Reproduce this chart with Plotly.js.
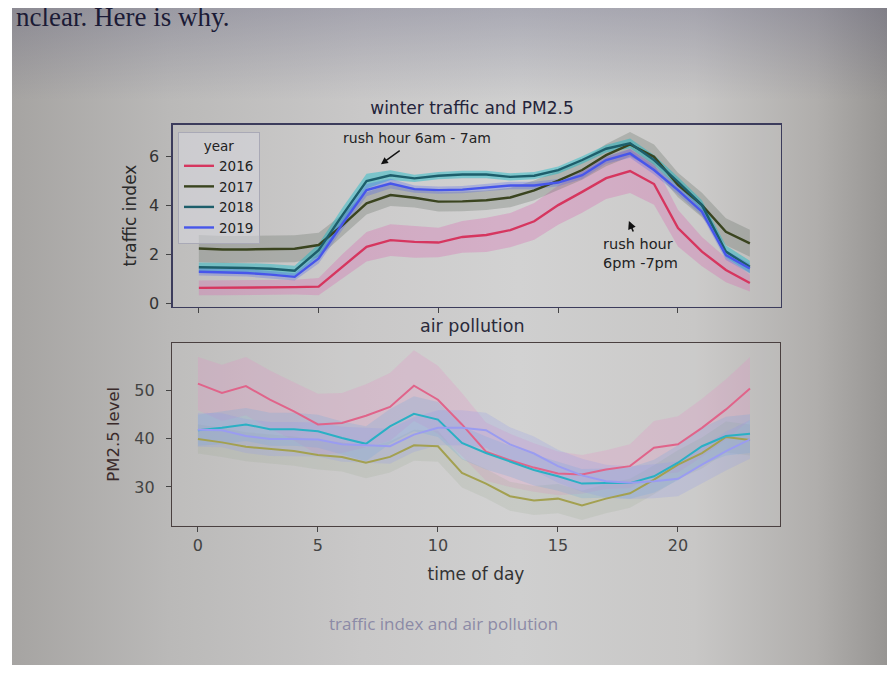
<!DOCTYPE html>
<html>
<head>
<meta charset="utf-8">
<script src="https://cdn.plot.ly/plotly-3.0.1.min.js"></script>
<style>
  html, body { margin: 0; padding: 0; background: #ffffff; }
  #bg { position: absolute; left: 12px; top: 8px; width: 875px; height: 657px;
        background:
          linear-gradient(to bottom, rgba(60,60,100,0.25) 0%, rgba(60,60,100,0.0) 14%),
          linear-gradient(to right, #a6a4a2 0%, #bab9b8 18%, #c9c8c8 40%, #cfcfcf 58%, #c8c7c6 78%, #b0aeac 92%, #979593 100%);
        z-index: 0; }
  #plot { position: absolute; left: 0; top: 0; width: 887px; height: 673px; z-index: 1; }
  .mask { position: absolute; background: #ffffff; z-index: 2; }
</style>
</head>
<body>
<div id="bg"></div>
<div id="plot"></div>
<div class="mask" style="left:0;top:0;width:887px;height:8px;"></div>
<div class="mask" style="left:0;top:0;width:12px;height:673px;"></div>
<div class="mask" style="left:0;top:665px;width:887px;height:8px;"></div>
<script>
// ---------- data ----------
const hours = [0,1,2,3,4,5,6,7,8,9,10,11,12,13,14,15,16,17,18,19,20,21,22,23];
const years = ["2016", "2017", "2018", "2019"];

// traffic index (top panel): mean and half-width of band
const traffic2016 = [0.62,0.62,0.62,0.63,0.65,0.67,1.50,2.30,2.57,2.50,2.47,2.70,2.78,2.98,3.34,4.00,4.54,5.10,5.39,4.86,3.06,2.10,1.35,0.82];
const traffic2017 = [2.23,2.19,2.19,2.20,2.22,2.37,3.18,4.07,4.41,4.30,4.14,4.15,4.20,4.31,4.60,5.00,5.43,6.04,6.48,5.97,4.82,4.00,2.91,2.44];
const traffic2018 = [1.46,1.45,1.43,1.40,1.32,2.16,3.60,4.98,5.22,5.09,5.20,5.25,5.25,5.15,5.20,5.43,5.84,6.30,6.52,5.84,4.95,4.00,2.10,1.48];
const traffic2019 = [1.28,1.26,1.23,1.16,1.07,1.82,3.25,4.61,4.88,4.65,4.61,4.63,4.71,4.80,4.80,4.92,5.22,5.84,6.11,5.43,4.61,3.73,1.96,1.41];
const trafficCI2016 = [0.30,0.30,0.30,0.30,0.30,0.35,0.50,0.60,0.65,0.65,0.60,0.65,0.70,0.70,0.75,0.80,0.85,0.85,0.90,0.85,0.75,0.60,0.50,0.35];
const trafficCI2017 = [0.55,0.55,0.55,0.55,0.55,0.50,0.45,0.45,0.45,0.40,0.40,0.40,0.40,0.40,0.40,0.40,0.40,0.45,0.50,0.50,0.50,0.50,0.55,0.55];
const trafficCI2018 = [0.20,0.20,0.20,0.20,0.20,0.25,0.30,0.30,0.20,0.15,0.15,0.15,0.15,0.15,0.15,0.15,0.15,0.15,0.20,0.20,0.20,0.20,0.25,0.25];
const trafficCI2019 = [0.15,0.15,0.15,0.15,0.15,0.20,0.25,0.25,0.20,0.15,0.15,0.15,0.15,0.15,0.15,0.15,0.15,0.15,0.18,0.18,0.18,0.18,0.20,0.20];

// PM2.5 level (bottom panel): mean and half-width of band
const pm2016 = [51.3,49.4,50.8,48.0,45.6,42.9,43.2,44.7,46.5,50.9,48.0,42.9,37.3,35.5,34.0,32.8,32.6,33.6,34.3,38.1,38.8,42.2,46.0,50.3];
const pm2017 = [39.9,39.2,38.3,37.9,37.4,36.6,36.2,35.0,36.2,38.6,38.4,32.9,30.7,28.1,27.2,27.6,26.2,27.6,28.7,31.5,34.6,37.0,40.3,39.7];
const pm2018 = [41.7,42.2,42.9,41.9,41.9,41.5,40.1,38.9,42.5,45.1,43.9,39.1,37.0,35.3,33.5,32.2,30.7,30.8,30.8,32.2,35.0,38.4,40.5,41.0];
const pm2019 = [41.8,41.7,40.5,39.9,39.9,39.8,38.8,38.6,38.4,40.8,42.2,42.2,41.7,38.8,36.9,34.3,32.4,31.2,30.9,31.2,31.7,34.6,37.4,39.8];
const pmCI2016 = [5.5,5.8,6.0,6.0,6.0,6.3,6.2,6.5,7.0,7.3,7.0,6.5,6.0,5.5,5.0,4.5,4.0,4.0,4.5,5.5,5.8,6.0,6.2,6.5];
const pmCI2017 = [3.0,3.0,3.0,3.0,3.0,3.0,3.0,3.2,3.2,3.2,3.2,3.0,3.0,3.0,3.0,3.0,3.0,3.0,3.0,3.0,3.0,3.2,3.2,3.2];
const pmCI2018 = [3.2,3.4,3.4,3.4,3.4,3.4,3.4,3.6,3.6,3.6,3.6,3.4,3.4,3.2,3.2,3.0,3.0,3.0,3.2,3.4,3.6,3.8,4.0,4.0];
const pmCI2019 = [3.5,3.5,3.5,3.5,3.5,3.5,3.6,3.6,3.6,3.6,3.6,3.6,3.6,3.5,3.5,3.4,3.4,3.4,3.4,3.5,3.6,3.8,4.0,4.0];

// ---------- styles ----------
const topLine = ["#d6365f", "#3a441f", "#1d5e6b", "#4756ea"];
const topBand = ["rgba(220,95,175,0.30)", "rgba(95,105,95,0.28)", "rgba(0,185,200,0.40)", "rgba(80,100,235,0.30)"];
const botLine = ["#e0648a", "#a3a050", "#2ab0c4", "#9a9cf0"];
const botBand = ["rgba(230,130,195,0.22)", "rgba(150,165,140,0.18)", "rgba(100,170,225,0.22)", "rgba(140,150,235,0.22)"];

const trafficMeans = [traffic2016, traffic2017, traffic2018, traffic2019];
const trafficCIs = [trafficCI2016, trafficCI2017, trafficCI2018, trafficCI2019];
const pmMeans = [pm2016, pm2017, pm2018, pm2019];
const pmCIs = [pmCI2016, pmCI2017, pmCI2018, pmCI2019];

function band(mean, ci, xa, ya, color) {
  const up = mean.map((v, i) => v + ci[i]);
  const lo = mean.map((v, i) => v - ci[i]);
  return {
    x: hours.concat(hours.slice().reverse()),
    y: up.concat(lo.slice().reverse()),
    xaxis: xa, yaxis: ya, type: "scatter", mode: "lines",
    fill: "toself", fillcolor: color, line: {width: 0, color: "rgba(0,0,0,0)"},
    showlegend: false, hoverinfo: "skip"
  };
}

const traces = [];
years.forEach((yr, k) => {
  traces.push(band(trafficMeans[k], trafficCIs[k], "x", "y", topBand[k]));
});
years.forEach((yr, k) => {
  traces.push({x: hours, y: trafficMeans[k], xaxis: "x", yaxis: "y", type: "scatter", mode: "lines",
    name: yr, line: {color: topLine[k], width: 2.4}, showlegend: true});
});
years.forEach((yr, k) => {
  traces.push(band(pmMeans[k], pmCIs[k], "x2", "y2", botBand[k]));
});
years.forEach((yr, k) => {
  traces.push({x: hours, y: pmMeans[k], xaxis: "x2", yaxis: "y2", type: "scatter", mode: "lines",
    name: yr, line: {color: botLine[k], width: 2.0}, showlegend: false});
});

const W = 887, H = 673;
const px = v => v / W;
const py = v => (H - v) / H;
const font = "DejaVu Sans, sans-serif";

const layout = {
  width: W, height: H,
  margin: {l: 0, r: 0, t: 0, b: 0},
  paper_bgcolor: "rgba(0,0,0,0)",
  plot_bgcolor: "rgba(255,255,255,0.07)",
  font: {family: font, size: 14, color: "#333"},
  showlegend: true,
  title: {text: "winter traffic and PM2.5", x: px(472), y: py(108), xanchor: "center", yanchor: "middle",
          font: {family: font, size: 17, color: "#23233a"}},
  xaxis: {domain: [px(172.5), px(781)], range: [-1.1, 24.3], anchor: "y",
          tickvals: [0,5,10,15,20], showticklabels: false, ticks: "outside", ticklen: 5, tickcolor: "#444",
          showline: true, mirror: true, linecolor: "#3c3c5c", linewidth: 1.2, showgrid: false, zeroline: false},
  yaxis: {domain: [py(306.5), py(124.5)], range: [-0.14, 7.29], anchor: "x",
          tickvals: [0,2,4,6], ticks: "outside", ticklen: 5, tickcolor: "#444", ticklabelstandoff: 4,
          tickfont: {family: font, size: 16, color: "#333"},
          showline: true, mirror: true, linecolor: "#3c3c5c", linewidth: 1.2, showgrid: false, zeroline: false,
          title: {text: "traffic index", standoff: 8, font: {family: font, size: 17, color: "#2a2a2a"}}},
  xaxis2: {domain: [px(172), px(780)], range: [-1.08, 24.25], anchor: "y2",
          tickvals: [0,5,10,15,20], ticks: "outside", ticklen: 5, tickcolor: "#444",
          tickfont: {family: font, size: 16, color: "#444"},
          showline: true, mirror: true, linecolor: "#4a4040", linewidth: 1.2, showgrid: false, zeroline: false,
          title: {text: "time of day", standoff: 14, font: {family: font, size: 17, color: "#333"}}},
  yaxis2: {domain: [py(525.5), py(343)], range: [22.06, 59.69], anchor: "x2",
          tickvals: [30,40,50], ticks: "outside", ticklen: 5, tickcolor: "#444", ticklabelstandoff: 8,
          tickfont: {family: font, size: 16, color: "#444"},
          showline: true, mirror: true, linecolor: "#4a4040", linewidth: 1.2, showgrid: false, zeroline: false,
          title: {text: "PM2.5 level", standoff: 10, font: {family: font, size: 16.5, color: "#3a2a2a"}}},
  legend: {x: px(178), y: py(132), xanchor: "left", yanchor: "top",
           bgcolor: "rgba(215,215,222,0.55)", bordercolor: "#a9a9b6", borderwidth: 1,
           font: {family: font, size: 13.5, color: "#222"},
           title: {text: "year", side: "top center", font: {family: font, size: 13.5, color: "#222"}},
           itemwidth: 30, tracegroupgap: 0},
  annotations: [
    {text: "rush hour 6am - 7am", xref: "x", yref: "y", x: 7.6, y: 5.67, ax: 36, ay: -26,
     showarrow: true, arrowhead: 2, arrowsize: 1, arrowwidth: 1.4, arrowcolor: "#111", startstandoff: 5,
     font: {family: font, size: 14, color: "#222"}},
    {text: "rush hour<br>6pm -7pm", xref: "x", yref: "y", x: 17.95, y: 3.35, xshift: 12, yshift: -32,
     align: "left", showarrow: false, font: {family: font, size: 14.5, color: "#222"}},
    {text: "", xref: "x", yref: "y", x: 17.95, y: 3.35, ax: 5, ay: 12,
     showarrow: true, arrowhead: 2, arrowsize: 1, arrowwidth: 1.6, arrowcolor: "#111"},
    {text: "air pollution", xref: "paper", yref: "paper", x: px(472), y: py(326), xanchor: "center", yanchor: "middle",
     showarrow: false, font: {family: font, size: 17.5, color: "#2a2a3a"}},
    {text: "traffic index and air pollution", xref: "paper", yref: "paper", x: px(443), y: py(623),
     xanchor: "center", yanchor: "middle", showarrow: false,
     font: {family: "Open Sans, sans-serif", size: 17, color: "#8c8aa6"}},
    {text: "nclear. Here is why.", xref: "paper", yref: "paper", x: px(14), y: 1.0,
     xanchor: "left", yanchor: "top", showarrow: false,
     font: {family: "Liberation Serif, serif", size: 27, color: "#1b1b36"}}
  ]
};

Plotly.newPlot("plot", traces, layout, {staticPlot: true, displayModeBar: false});
</script>
</body>
</html>
